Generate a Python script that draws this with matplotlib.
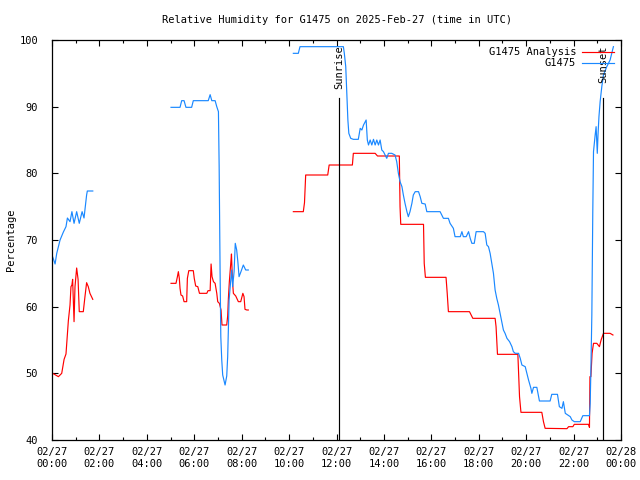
import matplotlib
matplotlib.use('Agg')
import matplotlib.pyplot as plt
import matplotlib.dates as mdates
import numpy as np
import pandas as pd

nan = np.nan

# hours after 2025-02-27 00:00 UTC; nan rows mark the gaps in the record
analysis_hours = [0.03, 0.27, 0.41, 0.51, 0.59, 0.69, 0.76, 0.80, 0.84, 0.87, 0.93, 0.97, 1.04, 1.10, 1.15, 1.32,
                  1.39, 1.46, 1.53, 1.60, 1.72,
                  3.0,
                  5.02, 5.23, 5.29, 5.33, 5.37, 5.40, 5.44, 5.51, 5.57, 5.68, 5.71, 5.77, 5.96, 6.00, 6.06, 6.15,
                  6.22, 6.53, 6.58, 6.67, 6.71, 6.75, 6.81, 6.88, 6.95, 6.99, 7.06, 7.13, 7.17, 7.26, 7.37, 7.41,
                  7.44, 7.48, 7.54, 7.57, 7.61, 7.65, 7.75, 7.86, 7.96, 8.05, 8.10, 8.14, 8.22, 8.28,
                  9.0,
                  10.18, 10.60, 10.65, 10.70, 11.63, 11.69, 12.67, 12.71, 13.63, 13.73, 14.65, 14.68, 14.71, 15.67,
                  15.70, 15.75, 16.62, 16.67, 16.72, 17.61, 17.75, 18.69, 18.73, 18.79, 19.65, 19.72, 19.78, 20.66,
                  20.73, 20.80, 21.72, 21.79, 21.97, 22.03, 22.63, 22.67, 22.69, 22.73, 22.78, 22.84, 22.98, 23.09,
                  23.16, 23.26, 23.54, 23.66]
analysis_rh = [50.0, 49.5, 50.0, 52.1, 52.9, 57.9, 60.25, 63.0, 63.25, 64.1, 57.75, 63.0, 65.8, 64.1, 59.25, 59.25,
               61.5, 63.6, 63.0, 62.0, 61.1,
               nan,
               63.5, 63.5, 64.5, 65.25, 64.25, 62.75, 61.75, 61.6, 60.75, 60.75, 64.25, 65.4, 65.4, 64.25, 63.1, 63.0,
               62.0, 62.0, 62.4, 62.4, 66.4, 64.5, 63.75, 63.5, 62.0, 60.75, 60.5, 59.5, 57.25, 57.25, 57.25, 58.6,
               61.25, 63.75, 66.5, 67.9, 64.0, 62.0, 61.6, 60.75, 60.75, 62.0, 61.5, 59.6, 59.5, 59.5,
               nan,
               74.25, 74.25, 75.6, 79.75, 79.75, 81.25, 81.25, 83.0, 83.0, 82.6, 82.6, 75.0, 72.35, 72.35,
               66.5, 64.4, 64.4, 62.0, 59.25, 59.25, 58.25, 58.25, 57.0, 52.85, 52.85, 46.5, 44.15, 44.15,
               42.75, 41.75, 41.7, 42.0, 42.0, 42.35, 42.35, 41.9, 49.5, 49.5, 53.0, 54.5, 54.5, 54.0,
               55.0, 56.0, 56.0, 55.75]

station_hours = [0.03, 0.13, 0.20, 0.34, 0.48, 0.59, 0.65, 0.76, 0.84, 0.93, 1.04, 1.15, 1.27, 1.35, 1.46, 1.49, 1.72,
                 3.0,
                 5.02, 5.40, 5.47, 5.57, 5.65, 5.89, 5.96, 6.59, 6.67, 6.74, 6.88, 6.95, 7.02, 7.05, 7.09, 7.12,
                 7.16, 7.20, 7.30, 7.37, 7.41, 7.47, 7.54, 7.58, 7.62, 7.68, 7.73, 7.79, 7.84, 7.89, 7.97, 8.07,
                 8.17, 8.28,
                 9.0,
                 10.18, 10.39, 10.46, 12.29, 12.33, 12.39, 12.43, 12.48, 12.52, 12.60, 12.71, 12.92, 13.00, 13.07,
                 13.14, 13.21, 13.25, 13.30, 13.35, 13.42, 13.49, 13.56, 13.63, 13.70, 13.77, 13.84, 13.91, 13.98,
                 14.05, 14.12, 14.19, 14.33, 14.47, 14.54, 14.61, 14.68, 14.76, 14.82, 14.89, 14.97, 15.03, 15.10,
                 15.18, 15.24, 15.32, 15.46, 15.53, 15.60, 15.74, 15.81, 16.37, 16.51, 16.72, 16.79, 16.93, 17.00,
                 17.22, 17.29, 17.35, 17.47, 17.57, 17.64, 17.71, 17.81, 17.89, 18.03, 18.20, 18.27, 18.34, 18.41,
                 18.48, 18.55, 18.62, 18.69, 18.76, 18.83, 18.90, 18.97, 19.04, 19.11, 19.19, 19.30, 19.40, 19.46,
                 19.54, 19.68, 19.75, 19.82, 19.96, 20.03, 20.10, 20.20, 20.24, 20.31, 20.45, 20.56, 21.01, 21.08,
                 21.32, 21.40, 21.51, 21.57, 21.65, 21.86, 21.93, 22.03, 22.28, 22.39, 22.67, 22.70, 22.73, 22.77,
                 22.81, 22.84, 22.91, 22.95, 23.00, 23.03, 23.07, 23.12, 23.19, 23.26, 23.40, 23.54, 23.68]
station_rh = [67.45, 66.4, 68.0, 70.0, 71.2, 72.0, 73.3, 72.75, 74.25, 72.5, 74.25, 72.5, 74.25, 73.3, 76.75, 77.35, 77.35,
              nan,
              89.9, 89.9, 90.9, 90.9, 89.9, 89.9, 90.9, 90.9, 91.8, 90.9, 90.9, 90.0, 89.25, 81.1, 65.25, 55.5,
              52.0, 49.75, 48.25, 49.6, 52.5, 61.0, 64.0, 65.5, 63.0, 65.25, 69.5, 68.5, 66.7, 64.5, 65.25, 66.25,
              65.5, 65.5,
              nan,
              98.0, 98.0, 99.0, 99.0, 98.0, 96.0, 92.25, 88.0, 86.0, 85.25, 85.1, 85.1, 86.75, 86.5,
              87.25, 87.75, 88.0, 85.0, 84.25, 85.0, 84.25, 85.1, 84.25, 85.0, 84.25, 85.0, 83.5, 83.25,
              82.75, 82.25, 83.0, 83.0, 82.75, 81.75, 80.0, 78.75, 78.0, 76.75, 75.5, 74.25, 73.5, 74.25,
              75.5, 76.75, 77.25, 77.25, 76.5, 75.5, 75.4, 74.25, 74.25, 73.25, 73.25, 72.5, 71.75, 70.5,
              70.5, 71.25, 70.5, 70.5, 71.25, 70.25, 69.5, 69.5, 71.25, 71.25, 71.25, 71.0, 69.25, 69.0,
              68.0, 66.5, 65.0, 62.5, 61.25, 60.25, 59.0, 57.75, 56.5, 56.0, 55.25, 54.75, 54.0, 53.25,
              53.0, 53.0, 52.25, 51.25, 51.0, 50.0, 49.0, 47.75, 47.0, 47.9, 47.9, 45.85, 45.85, 46.85,
              46.85, 45.0, 44.75, 45.75, 44.0, 43.5, 43.0, 42.75, 42.75, 43.65, 43.65, 45.5, 50.5, 58.75,
              74.25, 83.25, 85.75, 87.0, 83.0, 85.75, 88.5, 90.75, 93.0, 94.75, 96.0, 97.0, 99.0]

sunrise_hour = 12.12
sunset_hour = 23.26

base = pd.Timestamp('2025-02-27 00:00')
def to_time(h):
    return base + pd.to_timedelta(np.array(h), unit='h')

font = 'DejaVu Sans Mono'
fs = 7.5
red = '#ff0000'
blue = '#1a88ff'

fig = plt.figure(figsize=(6.4, 4.8), dpi=100)
ax = fig.add_axes([52 / 640, 40 / 480, 569 / 640, 400 / 480])

ax.plot(to_time(analysis_hours), analysis_rh, color=red, linewidth=0.85, label='G1475 Analysis')
ax.plot(to_time(station_hours), station_rh, color=blue, linewidth=0.85, label='G1475')

for h, name in [(sunrise_hour, 'Sunrise'), (sunset_hour, 'Sunset')]:
    t = to_time([h])[0]
    ax.plot([t, t], [40, 91.3], color='k', linewidth=0.85)
    ax.text(t, 99.2, name, rotation=90, ha='center', va='top', fontsize=fs, family=font)

ax.set_xlim(base, base + pd.Timedelta(hours=24))
ax.set_ylim(40, 100)
ax.set_yticks(range(40, 101, 10))
ax.xaxis.set_major_locator(mdates.HourLocator(interval=2))
ax.xaxis.set_minor_locator(mdates.HourLocator(interval=1))
ax.xaxis.set_major_formatter(mdates.DateFormatter('%m/%d\n%H:%M'))

ax.tick_params(axis='both', which='both', direction='in', top=True, right=True, width=0.8)
ax.tick_params(axis='both', which='major', length=4)
ax.tick_params(axis='x', which='minor', length=2.5)
ax.tick_params(axis='x', which='major', pad=5)
ax.tick_params(axis='y', which='major', pad=10)
for lab in ax.get_xticklabels() + ax.get_yticklabels():
    lab.set_fontsize(fs)
    lab.set_family(font)
for s in ax.spines.values():
    s.set_linewidth(0.9)

ax.set_title('Relative Humidity for G1475 on 2025-Feb-27 (time in UTC)', fontsize=fs, family=font, pad=12.5)
ax.set_ylabel('Percentage', fontsize=fs, family=font)
ax.yaxis.set_label_coords(-36 / 569, 0.5)

leg = ax.legend(loc='upper right', frameon=False, markerfirst=False, prop={'family': font, 'size': fs},
                handlelength=3.0, handletextpad=0.6, labelspacing=0.1, borderaxespad=0.3)

fig.savefig('out.png', dpi=100)
